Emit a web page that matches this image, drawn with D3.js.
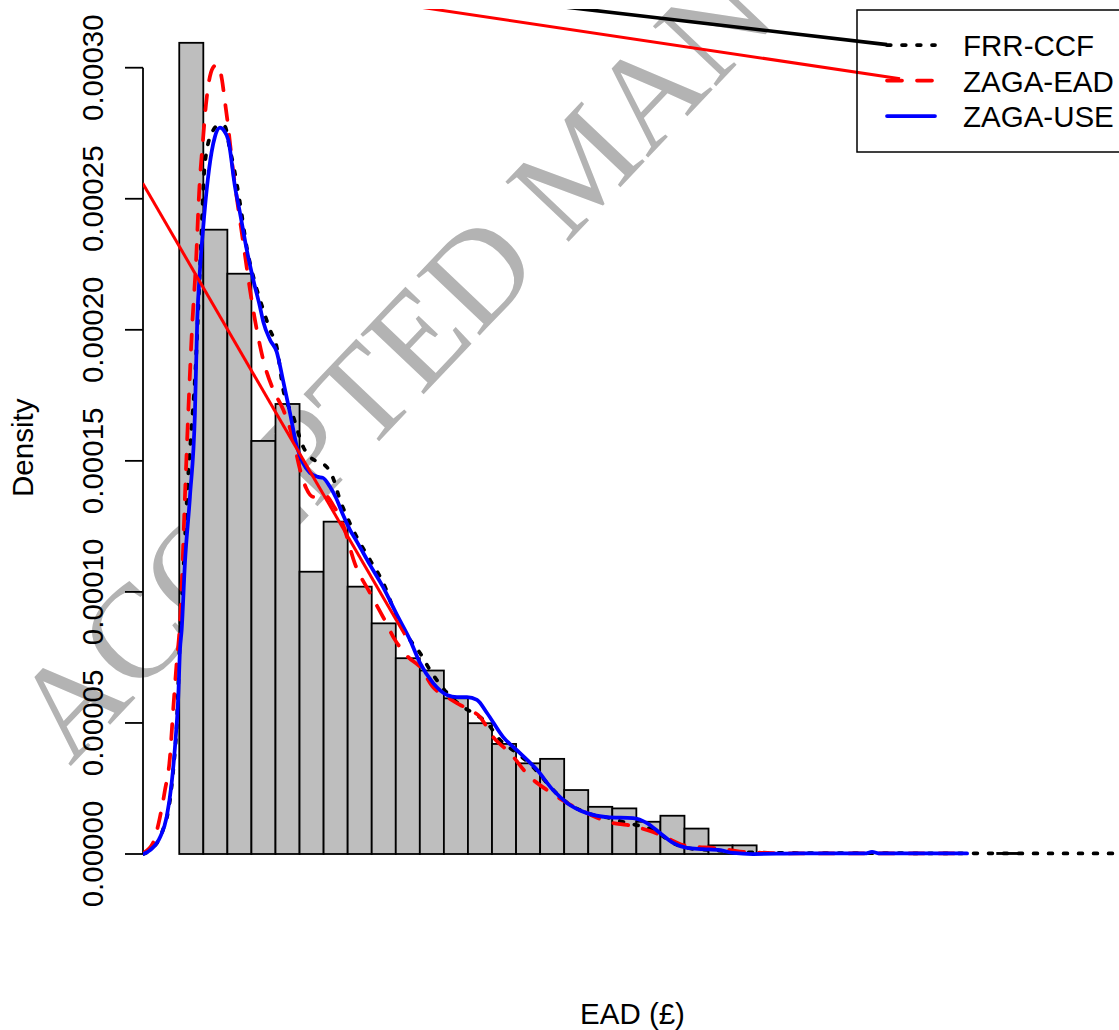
<!DOCTYPE html>
<html><head><meta charset="utf-8">
<script src="https://cdn.jsdelivr.net/npm/d3@7"></script>
<style>html,body{margin:0;padding:0;background:#fff}svg{display:block}</style>
</head><body>
<script>
// ---------- data ----------
const binStart = 0;
const binWidth = 500;               // £ per histogram bin
const barDensity = [30.95e-5, 23.82e-5, 22.14e-5, 15.76e-5, 17.17e-5, 10.77e-5, 12.68e-5, 10.2e-5,
  8.8e-5, 7.47e-5, 7.0e-5, 5.94e-5, 4.99e-5, 4.2e-5, 3.46e-5, 3.63e-5, 2.44e-5, 1.8e-5, 1.74e-5,
  1.23e-5, 1.46e-5, 0.97e-5, 0.33e-5, 0.33e-5,
  0, 0.02e-5, 0.02e-5, 0, 0, 0, 0.04e-5, 0, 0, 0, 0.04e-5];
const xLim = [0, 18840];
const yLim = [0, 0.00031];
const yTicks = [0, 0.00005, 0.0001, 0.00015, 0.0002, 0.00025, 0.0003];
const seriesNames = ["FRR-CCF", "ZAGA-EAD", "ZAGA-USE"];
const seriesColors = ["#000000", "#ff0000", "#0000ff"];

const frrCcf = [[-750,0],[-605,0.15e-5],[-339,0.92e-5],[-193,2.06e-5],[-131,3.09e-5],[-48,5.11e-5],[15,8.28e-5],
  [98,11.22e-5],[181,14.27e-5],[258,16.3e-5],[326,18.09e-5],[430,22.29e-5],[534,26.36e-5],[673,27.5e-5],
  [831,27.82e-5],[950,27.75e-5],[1054,26.87e-5],[1116,26.36e-5],[1262,24.84e-5],[1401,23.16e-5],[1573,21.79e-5],
  [1746,20.76e-5],[1885,20.0e-5],[2025,19.35e-5],[2162,17.71e-5],[2370,16.68e-5],[2577,15.53e-5],[2717,15.15e-5],
  [2883,14.96e-5],[3064,14.77e-5],[3195,14.35e-5],[3341,13.51e-5],[3486,12.86e-5],[3687,12.1e-5],[3964,11.22e-5],
  [4240,10.34e-5],[4519,9.05e-5],[4795,8.17e-5],[5003,7.67e-5],[5211,7.02e-5],[5564,6.15e-5],[5897,5.61e-5],
  [6146,5.34e-5],[6396,5.0e-5],[6666,4.35e-5],[7020,3.85e-5],[7353,3.32e-5],[7643,2.71e-5],[7914,2.18e-5],
  [8475,1.56e-5],[8953,1.37e-5],[9307,1.18e-5],[9577,1.07e-5],[9847,0.92e-5],[10262,0.42e-5],[10553,0.23e-5],
  [11032,0.15e-5],[11655,0.08e-5],[12487,0.04e-5],[19600,0.02e-5]];

const zagaEad = [[-750,0.04e-5],[-547,0.42e-5],[-401,1.41e-5],[-297,2.44e-5],[-193,3.7e-5],[-131,5.38e-5],
  [-54,7.29e-5],[15,8.82e-5],[56,10.46e-5],[118,13.63e-5],[187,16.83e-5],[264,19.99e-5],[347,22.55e-5],
  [416,25.34e-5],[493,27.25e-5],[555,28.59e-5],[617,29.47e-5],[700,30.0e-5],[777,30.11e-5],[846,29.92e-5],
  [888,29.54e-5],[950,28.69e-5],[1012,27.82e-5],[1054,27.13e-5],[1116,26.11e-5],[1193,25.07e-5],[1330,23.32e-5],
  [1470,21.53e-5],[1573,20.38e-5],[1746,18.85e-5],[1954,17.71e-5],[2162,16.95e-5],[2370,15.8e-5],[2511,14.66e-5],
  [2634,13.97e-5],[2780,13.63e-5],[2925,13.63e-5],[3050,13.66e-5],[3195,13.32e-5],[3403,12.56e-5],[3652,11.07e-5],
  [3964,9.96e-5],[4234,9.05e-5],[4484,8.17e-5],[4754,7.52e-5],[5003,7.14e-5],[5273,6.37e-5],[5564,5.99e-5],
  [5835,5.69e-5],[6042,5.5e-5],[6250,5.23e-5],[6521,4.47e-5],[6874,3.85e-5],[7290,2.94e-5],[7643,2.44e-5],
  [8059,1.95e-5],[8475,1.56e-5],[9016,1.18e-5],[9307,1.11e-5],[9577,0.99e-5],[9847,0.84e-5],[10138,0.61e-5],
  [10470,0.34e-5],[10761,0.27e-5],[11094,0.23e-5],[11447,0.15e-5],[11717,0.08e-5],[12216,0.04e-5],
  [12902,0.02e-5],[16228,0.02e-5]];

const zagaUse = [[-750,0],[-605,0.15e-5],[-397,0.65e-5],[-262,1.41e-5],[-158,2.71e-5],[-89,4.08e-5],[-21,5.99e-5],
  [15,7.79e-5],[50,8.55e-5],[118,11.11e-5],[222,13.63e-5],[326,16.84e-5],[374,20.38e-5],[430,22.29e-5],
  [499,23.93e-5],[570,25.34e-5],[673,26.79e-5],[742,27.37e-5],[846,27.71e-5],[929,27.6e-5],[1018,27.25e-5],
  [1158,25.46e-5],[1262,24.46e-5],[1401,23.07e-5],[1538,21.91e-5],[1677,20.88e-5],[1746,20.31e-5],[1885,19.62e-5],
  [2025,19.16e-5],[2155,18.09e-5],[2301,16.83e-5],[2447,15.53e-5],[2571,14.92e-5],[2717,14.54e-5],[2883,14.39e-5],
  [2987,14.35e-5],[3133,14.01e-5],[3257,13.59e-5],[3403,12.94e-5],[3548,12.37e-5],[3694,11.91e-5],[3964,11.03e-5],
  [4234,10.19e-5],[4525,9.12e-5],[4795,8.17e-5],[5003,7.29e-5],[5273,6.53e-5],[5564,6.07e-5],[5772,5.99e-5],
  [5980,5.99e-5],[6188,5.88e-5],[6396,5.38e-5],[6729,4.47e-5],[7082,3.85e-5],[7436,3.21e-5],[7768,2.44e-5],
  [8059,1.95e-5],[8475,1.56e-5],[8891,1.41e-5],[9431,1.37e-5],[9722,1.18e-5],[9992,0.8e-5],[10262,0.42e-5],
  [10553,0.23e-5],[10886,0.19e-5],[11239,0.15e-5],[11509,0.04e-5],[11925,0],[12902,0.02e-5],[14253,0.02e-5],
  [14398,0.08e-5],[14565,0.02e-5],[16374,0.02e-5]];

// stray guide segments visible in the figure (data coordinates)
const guideRedLeft = [[-760, 25.59e-5], [4691, 8.36e-5]];
const guideRedTop = [[3257, 32.79e-5], [14980, 29.58e-5]];
const guideBlackTop = [[5800, 32.79e-5], [14710, 30.88e-5]];

const watermark = "ACCEPTED MANUSCRIPT";

// ---------- layout ----------
const W = 1119, H = 1030;
const plot = {left: 143, right: 1122, top: 9, bottom: 886.5};
const FONT = "'Liberation Sans', Arial, Helvetica, sans-serif";
const FS = 29.5;
const LW = 3.75;

const expand = (l) => { const r = l[1] - l[0]; return [l[0] - 0.04 * r, l[1] + 0.04 * r]; };
const x = d3.scaleLinear().domain(expand(xLim)).range([plot.left, plot.right]);
const y = d3.scaleLinear().domain(expand(yLim)).range([plot.bottom, plot.top]);

const svg = d3.select("body").append("svg").attr("width", W).attr("height", H)
  .attr("font-family", FONT);

svg.append("defs").append("clipPath").attr("id", "plotclip").append("rect")
  .attr("x", plot.left).attr("y", plot.top)
  .attr("width", plot.right - plot.left).attr("height", plot.bottom - plot.top);

// watermark (behind)
svg.append("text")
  .attr("transform", "translate(70,767) rotate(-46.5)")
  .attr("font-family", "'Liberation Serif', 'Times New Roman', serif")
  .attr("font-size", 133)
  .attr("fill", "#b3b3b3")
  .text(watermark);

// histogram
const bins = barDensity.map((d, i) => ({x0: binStart + i * binWidth, x1: binStart + (i + 1) * binWidth, d}));
svg.append("g").selectAll("rect").data(bins).join("rect")
  .attr("x", b => x(b.x0)).attr("width", b => x(b.x1) - x(b.x0))
  .attr("y", b => y(b.d)).attr("height", b => y(0) - y(b.d))
  .attr("fill", "#bebebe").attr("stroke", "#000").attr("stroke-width", 1.8);

// y axis
const ax = svg.append("g");
ax.append("line").attr("x1", plot.left).attr("x2", plot.left)
  .attr("y1", y(yTicks[0])).attr("y2", y(yTicks[yTicks.length - 1]))
  .attr("stroke", "#000").attr("stroke-width", 1.8);
ax.selectAll("line.tick").data(yTicks).join("line").attr("class", "tick")
  .attr("x1", plot.left - 18).attr("x2", plot.left)
  .attr("y1", d => y(d)).attr("y2", d => y(d))
  .attr("stroke", "#000").attr("stroke-width", 1.8);
ax.selectAll("text").data(yTicks).join("text")
  .attr("transform", d => `translate(103,${y(d)}) rotate(-90)`)
  .attr("text-anchor", "middle").attr("font-size", FS)
  .text(d3.format(".5f"));

// axis titles
svg.append("text").attr("transform", `translate(33,${(plot.top + plot.bottom) / 2}) rotate(-90)`)
  .attr("text-anchor", "middle").attr("font-size", FS).text("Density");
svg.append("text").attr("x", (plot.left + plot.right) / 2).attr("y", 1024)
  .attr("text-anchor", "middle").attr("font-size", FS).text("EAD (£)");

// density curves
const line = d3.line().x(d => x(d[0])).y(d => y(d[1])).curve(d3.curveMonotoneX);
const g = svg.append("g").attr("clip-path", "url(#plotclip)");
const styles = [
  {data: frrCcf, color: seriesColors[0], dash: `${LW},${3 * LW}`},
  {data: zagaEad, color: seriesColors[1], dash: `${4 * LW},${4 * LW}`},
  {data: zagaUse, color: seriesColors[2], dash: null}
];
styles.forEach(s => {
  g.append("path").attr("d", line(s.data)).attr("fill", "none")
    .attr("stroke", s.color).attr("stroke-width", LW)
    .attr("stroke-linecap", "round").attr("stroke-linejoin", "round")
    .attr("stroke-dasharray", s.dash);
});

// stray guide segments
const seg = d3.line().x(d => x(d[0])).y(d => y(d[1]));
g.append("path").attr("d", seg(guideRedLeft)).attr("stroke", "#ff0000").attr("stroke-width", 3).attr("fill", "none");
g.append("path").attr("d", seg(guideRedTop)).attr("stroke", "#ff0000").attr("stroke-width", 3).attr("fill", "none");
g.append("path").attr("d", seg(guideBlackTop)).attr("stroke", "#000").attr("stroke-width", 3.6).attr("fill", "none");

// legend
const leg = svg.append("g");
leg.append("rect").attr("x", 857).attr("y", 10).attr("width", plot.right - 857).attr("height", 142)
  .attr("fill", "none").attr("stroke", "#000").attr("stroke-width", 1.5);
seriesNames.forEach((name, i) => {
  const cy = 45 + i * 35.5;
  leg.append("line").attr("x1", 887).attr("x2", 935).attr("y1", cy).attr("y2", cy)
    .attr("stroke", styles[i].color).attr("stroke-width", LW)
    .attr("stroke-linecap", "round").attr("stroke-dasharray", styles[i].dash);
  leg.append("text").attr("x", 963).attr("y", cy + 11).attr("font-size", FS).text(name);
});
</script>
</body></html>
